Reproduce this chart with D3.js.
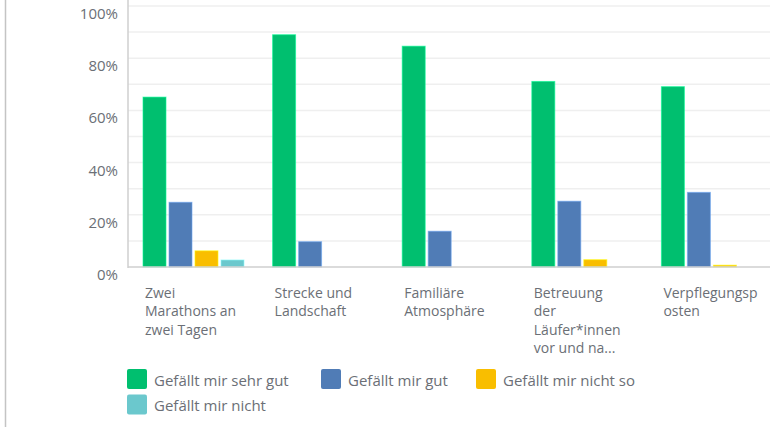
<!DOCTYPE html>
<html>
<head>
<meta charset="utf-8">
<script src="https://cdn.jsdelivr.net/npm/d3@7"></script>
<style>
  html, body { margin: 0; padding: 0; background: #fff; }
  svg { display: block; }
  text { font-family: "Open Sans", "Noto Sans", sans-serif; }
</style>
</head>
<body>
<svg id="chart" width="770" height="428"></svg>
<script>
// ---- data ----
const categories = [
  "Zwei Marathons an zwei Tagen",
  "Strecke und Landschaft",
  "Familiäre Atmosphäre",
  "Betreuung der Läufer*innen vor und na...",
  "Verpflegungsposten"
];
const categoryLabelLines = [
  ["Zwei", "Marathons an", "zwei Tagen"],
  ["Strecke und", "Landschaft"],
  ["Familiäre", "Atmosphäre"],
  ["Betreuung", "der", "Läufer*innen", "vor und na..."],
  ["Verpflegungsp", "osten"]
];
const seriesNames = [
  "Gefällt mir sehr gut",
  "Gefällt mir gut",
  "Gefällt mir nicht so",
  "Gefällt mir nicht"
];
const sehrGut   = [65.1, 89.0, 84.6, 71.1, 69.1];
const gut       = [24.8, 9.7, 13.7, 25.2, 28.6];
const nichtSo   = [6.2, 0, 0, 2.8, 0.7];
const nicht     = [2.7, 0, 0, 0, 0];
const seriesValues = [sehrGut, gut, nichtSo, nicht];
const colors = ["#00bf6f", "#507cb6", "#f9be00", "#6bc8cd"];
const yTicks = [0, 20, 40, 60, 80, 100];
const yGrid = [0, 10, 20, 30, 40, 50, 60, 70, 80, 90, 100];

// ---- layout ----
const svg = d3.select("#chart");
const plotLeft = 128, plotRight = 776, plotTop = 6, plotBottom = 267;

// panel border (left)
svg.append("line")
  .attr("x1", 5.5).attr("x2", 5.5).attr("y1", 0).attr("y2", 427)
  .attr("stroke", "#c4c4c4").attr("stroke-width", 1.5);

const x0 = d3.scaleBand().domain(categories).range([plotLeft, plotRight]);
const x1 = d3.scaleBand().domain(seriesNames).range([0, 101]).paddingInner(3 / 26);
const groupOffset = 15;
const y = d3.scaleLinear().domain([0, 100]).range([plotBottom, plotTop]);

// gridlines
svg.append("g").selectAll("line").data(yGrid.filter(d => d > 0)).join("line")
  .attr("x1", plotLeft).attr("x2", 770)
  .attr("y1", d => y(d)).attr("y2", d => y(d))
  .attr("stroke", "#efefef").attr("stroke-width", 1.5);

// y tick labels
svg.append("g").selectAll("text").data(yTicks).join("text")
  .attr("x", 118).attr("y", d => y(d) + 7)
  .attr("text-anchor", "end").attr("dominant-baseline", "central")
  .attr("font-size", 15).attr("fill", "#6b6f76")
  .text(d => d + "%");

// bars
const groups = svg.append("g").selectAll("g").data(categories).join("g")
  .attr("transform", c => `translate(${x0(c) + groupOffset},0)`);
groups.selectAll("rect")
  .data((c, i) => seriesNames.map((s, j) => ({ s, j, v: seriesValues[j][i] })).filter(d => d.v > 0))
  .join("rect")
  .attr("x", d => x1(d.s))
  .attr("width", x1.bandwidth())
  .attr("y", d => y(d.v))
  .attr("height", d => y(0) - y(d.v))
  .attr("fill", d => colors[d.j])
  .attr("stroke", d => d3.color(colors[d.j]).brighter(0.8))
  .attr("stroke-opacity", 0.6)
  .attr("stroke-width", 1);

// axes lines
svg.append("line")
  .attr("x1", plotLeft).attr("x2", plotLeft).attr("y1", 0).attr("y2", plotBottom + 1)
  .attr("stroke", "#cfcfcf").attr("stroke-width", 1.5);
svg.append("line")
  .attr("x1", plotLeft).attr("x2", 770).attr("y1", plotBottom).attr("y2", plotBottom)
  .attr("stroke", "#cfcfcf").attr("stroke-width", 1.5);

// category labels
const catG = svg.append("g").selectAll("text").data(categories).join("text")
  .attr("x", c => x0(c) + groupOffset + 2)
  .attr("y", 292)
  .attr("font-size", 14).attr("fill", "#6b6f76")
  .attr("dominant-baseline", "central");
catG.selectAll("tspan").data((c, i) => categoryLabelLines[i]).join("tspan")
  .attr("x", function () { return d3.select(this.parentNode).attr("x"); })
  .attr("dy", (d, i) => i === 0 ? 0 : 18.3)
  .text(d => d);

// legend
const legendPos = [
  { x: 127, y: 369 }, { x: 321, y: 369 }, { x: 476, y: 369 }, { x: 127, y: 394.5 }
];
const leg = svg.append("g").selectAll("g").data(seriesNames).join("g")
  .attr("transform", (d, i) => `translate(${legendPos[i].x},${legendPos[i].y})`);
leg.append("rect")
  .attr("width", 20).attr("height", 20).attr("rx", 2)
  .attr("fill", (d, i) => colors[i]);
leg.append("text")
  .attr("x", 27).attr("y", 10.5)
  .attr("dominant-baseline", "central")
  .attr("font-size", 15).attr("fill", "#6b6f76")
  .text(d => d);
</script>
</body>
</html>
